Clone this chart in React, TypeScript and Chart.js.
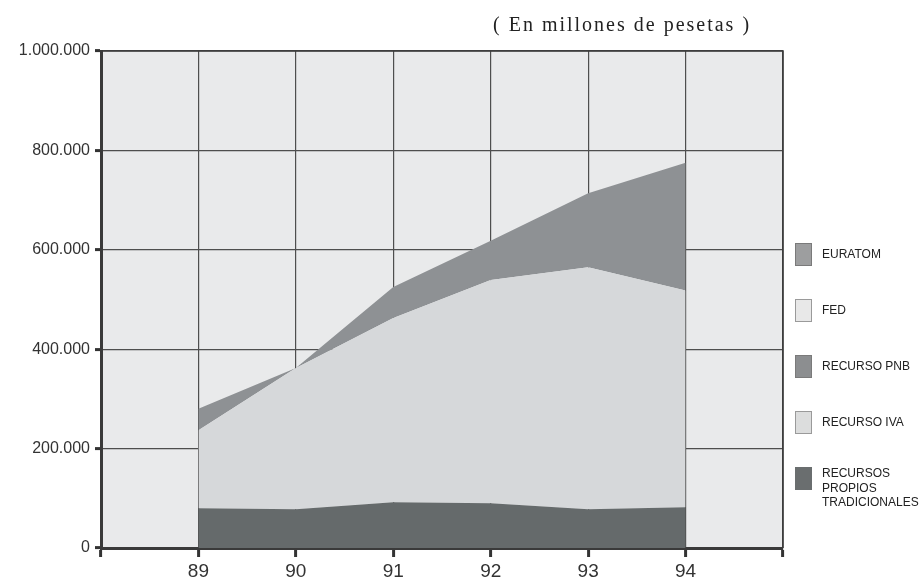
import React, { useEffect, useRef } from "react";
import { Chart, registerables } from "chart.js";

Chart.register(...registerables);

const years = [89, 90, 91, 92, 93, 94];
const recursosPropios = [80000, 78000, 92000, 90000, 78000, 82000];
const recursoIVA = [157000, 284000, 371000, 449000, 487000, 436000];
const recursoPNB = [43000, 0, 62000, 79000, 149000, 257000];
const fed = [0, 0, 0, 0, 0, 0];
const euratom = [0, 0, 0, 0, 0, 0];
const yTicks = [0, 200000, 400000, 600000, 800000, 1000000];
const title = "( En millones de pesetas )";

const seriesLabels = [
  "RECURSOS PROPIOS TRADICIONALES",
  "RECURSO IVA",
  "RECURSO PNB",
  "FED",
  "EURATOM",
];
const seriesValues = [recursosPropios, recursoIVA, recursoPNB, fed, euratom];
const seriesColors = ["#656a6b", "#d6d8da", "#8e9194", "#e6e7e8", "#9a9c9e"];
const legendColors = ["#6a6e6f", "#dcdddd", "#8c8e90", "#e8e8e8", "#9d9e9f"];
const legendBorders = ["#6a6e6f", "#9a9a9a", "#7a7a7a", "#9a9a9a", "#7a7a7a"];
const legendLines = [
  ["RECURSOS", "PROPIOS", "TRADICIONALES"],
  ["RECURSO IVA"],
  ["RECURSO PNB"],
  ["FED"],
  ["EURATOM"],
];

const fmt = (v: number) => String(v).replace(/\B(?=(\d{3})+(?!\d))/g, ".");

const framePlugin = {
  id: "frame",
  beforeDraw(chart: any) {
    const { ctx, chartArea } = chart;
    ctx.save();
    ctx.fillStyle = "#e9eaeb";
    ctx.fillRect(chartArea.left, chartArea.top, chartArea.right - chartArea.left, chartArea.bottom - chartArea.top);
    ctx.restore();
  },
  afterDraw(chart: any) {
    const { ctx, chartArea } = chart;
    ctx.save();
    ctx.strokeStyle = "#3a3a3a";
    ctx.lineWidth = 1.6;
    ctx.beginPath();
    ctx.moveTo(chartArea.left, chartArea.top);
    ctx.lineTo(chartArea.right, chartArea.top);
    ctx.lineTo(chartArea.right, chartArea.bottom);
    ctx.stroke();
    ctx.restore();
  },
};

export default function App() {
  const ref = useRef<HTMLCanvasElement>(null);
  useEffect(() => {
    if (!ref.current) return;
    const chart = new Chart(ref.current, {
      type: "line",
      data: {
        datasets: seriesValues.map((vals, i) => ({
          label: seriesLabels[i],
          data: years.map((y, j) => ({ x: y, y: vals[j] })),
          backgroundColor: seriesColors[i],
          borderWidth: 0,
          borderColor: seriesColors[i],
          pointRadius: 0,
          fill: i === 0 ? "origin" : "-1",
          tension: 0,
        })),
      },
      options: {
        animation: false,
        responsive: false,
        layout: { padding: { left: 0, top: 51, right: 140, bottom: 0 } },
        plugins: { legend: { display: false }, tooltip: { enabled: false }, title: { display: false } },
        scales: {
          x: {
            type: "linear",
            min: 88,
            max: 95,
            afterFit: (s: any) => { s.height = 35; },
            ticks: {
              stepSize: 1,
              autoSkip: false,
              maxRotation: 0,
              padding: 3,
              color: "#333",
              font: { family: "'Liberation Sans', Arial, sans-serif", size: 19 },
              callback: (v: any) => (years.includes(Number(v)) ? String(v) : ""),
            },
            grid: { color: "#4e4e4e", lineWidth: 1.2, tickLength: 9, tickColor: "#333", tickWidth: 3 },
            border: { color: "#3a3a3a", width: 3 },
          },
          y: {
            stacked: true,
            min: 0,
            max: 1000000,
            afterFit: (s: any) => { s.width = 101; },
            afterBuildTicks: (s: any) => { s.ticks = yTicks.map((v) => ({ value: v })); },
            ticks: {
              padding: 5,
              color: "#333",
              font: { family: "'Liberation Sans', Arial, sans-serif", size: 16 },
              callback: (v: any) => fmt(Number(v)),
            },
            grid: { color: "#4e4e4e", lineWidth: 1.2, tickLength: 6, tickColor: "#333", tickWidth: 3 },
            border: { color: "#3a3a3a", width: 3 },
          },
        },
      },
      plugins: [framePlugin],
    });
    return () => chart.destroy();
  }, []);

  const legendOrder = [4, 3, 2, 1, 0];
  return (
    <div style={{ position: "fixed", left: 0, top: 0, width: 923, height: 583, background: "#fff", overflow: "hidden" }}>
      <canvas ref={ref} width={923} height={583} style={{ position: "absolute", left: 0, top: 0 }} />
      <div
        style={{
          position: "absolute",
          left: 493,
          top: 11,
          fontFamily: "'Liberation Serif', 'Times New Roman', serif",
          fontSize: 20,
          letterSpacing: 2,
          color: "#222",
          whiteSpace: "nowrap",
          lineHeight: "26px",
        }}
      >
        {title}
      </div>
      {legendOrder.map((idx, k) => {
        const lines = legendLines[idx];
        const multi = lines.length > 1;
        return (
          <div
            key={idx}
            style={{
              position: "absolute",
              left: 795,
              top: 243 + k * 56,
              display: "flex",
              alignItems: multi ? "flex-start" : "center",
            }}
          >
            <div
              style={{
                width: 17,
                height: 23,
                boxSizing: "border-box",
                background: legendColors[idx],
                border: `1px solid ${legendBorders[idx]}`,
              }}
            />
            <div
              style={{
                marginLeft: 10,
                marginTop: multi ? -1 : 0,
                fontFamily: "'Liberation Sans', Arial, sans-serif",
                fontSize: 12,
                lineHeight: "14.5px",
                color: "#222",
                whiteSpace: "nowrap",
              }}
            >
              {lines.map((l, j) => (
                <div key={j}>{l}</div>
              ))}
            </div>
          </div>
        );
      })}
    </div>
  );
}
